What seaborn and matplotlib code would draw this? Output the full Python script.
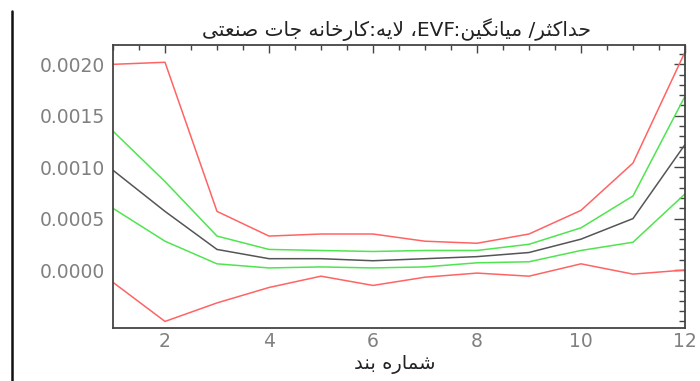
import numpy as np
import pandas as pd
import matplotlib
matplotlib.use("Agg")
import matplotlib.pyplot as plt
from matplotlib.lines import Line2D
from matplotlib.ticker import MultipleLocator, FormatStrFormatter
import seaborn as sns

# Band numbers and EVF statistics per band (industrial-plant layer)
bands = list(range(1, 13))
max_vals = [0.00200, 0.00202, 0.00057, 0.00033, 0.00035, 0.00035,
            0.00028, 0.00026, 0.00035, 0.00058, 0.00104, 0.00212]
upper_vals = [0.00135, 0.00086, 0.00033, 0.00020, 0.00019, 0.00018,
              0.00019, 0.00019, 0.00025, 0.00041, 0.00072, 0.00169]
mean_vals = [0.00097, 0.00057, 0.00020, 0.00011, 0.00011, 0.00009,
             0.00011, 0.00013, 0.00017, 0.00030, 0.00050, 0.00122]
lower_vals = [0.00060, 0.00028, 0.00006, 0.00002, 0.00003, 0.00002,
              0.00003, 0.00007, 0.00008, 0.00019, 0.00027, 0.00074]
min_vals = [-0.00012, -0.00050, -0.00032, -0.00017, -0.00006, -0.00015,
            -0.00007, -0.00003, -0.00006, 0.00006, -0.00004, 0.00000]

series_names = ["max", "upper", "mean", "lower", "min"]
series_colors = {"max": "#ff6464", "upper": "#50e450", "mean": "#555555",
                 "lower": "#50e450", "min": "#ff6464"}

title_text = "حداکثر/ میانگین:EVF، لایه:کارخانه جات صنعتی"
xlabel_text = "شماره بند"
x_ticks = [2, 4, 6, 8, 10, 12]
y_ticks = [0.0000, 0.0005, 0.0010, 0.0015, 0.0020]

# Contextual forms: (isolated, final, initial, medial)
FORMS = {
    "ا": ("\uFE8D", "\uFE8E", None, None),
    "ب": ("\uFE8F", "\uFE90", "\uFE91", "\uFE92"),
    "ت": ("\uFE95", "\uFE96", "\uFE97", "\uFE98"),
    "ث": ("\uFE99", "\uFE9A", "\uFE9B", "\uFE9C"),
    "ج": ("\uFE9D", "\uFE9E", "\uFE9F", "\uFEA0"),
    "ح": ("\uFEA1", "\uFEA2", "\uFEA3", "\uFEA4"),
    "خ": ("\uFEA5", "\uFEA6", "\uFEA7", "\uFEA8"),
    "د": ("\uFEA9", "\uFEAA", None, None),
    "ر": ("\uFEAD", "\uFEAE", None, None),
    "ش": ("\uFEB5", "\uFEB6", "\uFEB7", "\uFEB8"),
    "ص": ("\uFEB9", "\uFEBA", "\uFEBB", "\uFEBC"),
    "ع": ("\uFEC9", "\uFECA", "\uFECB", "\uFECC"),
    "ل": ("\uFEDD", "\uFEDE", "\uFEDF", "\uFEE0"),
    "م": ("\uFEE1", "\uFEE2", "\uFEE3", "\uFEE4"),
    "ن": ("\uFEE5", "\uFEE6", "\uFEE7", "\uFEE8"),
    "ه": ("\uFEE9", "\uFEEA", "\uFEEB", "\uFEEC"),
    "ک": ("\uFB8E", "\uFB8F", "\uFB90", "\uFB91"),
    "گ": ("\uFB92", "\uFB93", "\uFB94", "\uFB95"),
    "ی": ("\uFBFC", "\uFBFD", "\uFBFE", "\uFBFF"),
}


def joins_forward(ch):
    return ch in FORMS and FORMS[ch][2] is not None


def shape_rtl(text):
    """Return Arabic-script text in presentation forms, in visual order."""
    glyphs = []
    i, n = 0, len(text)
    while i < n:
        ch = text[i]
        if ch not in FORMS:
            glyphs.append(ch)
            i += 1
            continue
        jp = i > 0 and joins_forward(text[i - 1])
        if ch == "ل" and i + 1 < n and text[i + 1] == "ا":
            glyphs.append("\uFEFC" if jp else "\uFEFB")
            i += 2
            continue
        jn = joins_forward(ch) and i + 1 < n and text[i + 1] in FORMS
        iso, fin, ini, med = FORMS[ch]
        glyphs.append(med if jp and jn else fin if jp else ini if jn else iso)
        i += 1
    runs = []
    for g in glyphs:
        ltr = g.isascii() and g.isalnum()
        if runs and runs[-1][0] == ltr:
            runs[-1][1].append(g)
        else:
            runs.append([ltr, [g]])
    return "".join("".join(r) if ltr else "".join(reversed(r))
                   for ltr, r in reversed(runs))


df = pd.DataFrame({
    "band": bands * 5,
    "value": max_vals + upper_vals + mean_vals + lower_vals + min_vals,
    "series": sum([[s] * len(bands) for s in series_names], []),
})

sns.set_style("white")
plt.rcParams["font.family"] = ["DejaVu Sans"]

fig = plt.figure(figsize=(7.0, 3.81), dpi=100)
ax = fig.add_axes([113 / 700, 1 - 328 / 381, 572 / 700, 283 / 381])

sns.lineplot(data=df, x="band", y="value", hue="series", units="series",
             estimator=None, palette=series_colors, linewidth=1.1,
             legend=False, ax=ax)

ax.set_xlim(1, 12)
ax.set_ylim(-0.000564, 0.002188)
ax.set_xticks(x_ticks)
ax.set_yticks(y_ticks)
ax.xaxis.set_minor_locator(MultipleLocator(0.5))
ax.yaxis.set_minor_locator(MultipleLocator(0.0001))
ax.yaxis.set_major_formatter(FormatStrFormatter("%.4f"))
ax.set_xlabel("")
ax.set_ylabel("")

ax.tick_params(which="both", direction="in", top=True, right=True,
               colors="#444444", labelcolor="#808080", labelsize=13.5)
ax.tick_params(axis="y", which="major", length=8, width=1.0, pad=6)
ax.tick_params(axis="y", which="minor", length=4, width=1.0)
ax.tick_params(axis="x", which="major", length=6, width=1.0, pad=3)
ax.tick_params(axis="x", which="minor", length=3.5, width=1.0)
for sp in ax.spines.values():
    sp.set_color("#444444")
    sp.set_linewidth(1.3)

fig.text(397 / 700, 1 - 30 / 381, shape_rtl(title_text), ha="center",
         va="center", fontsize=14.5, color="#222222")
fig.text(395 / 700, 1 - 364 / 381, shape_rtl(xlabel_text), ha="center",
         va="center", fontsize=14, color="#222222")

# Frame edge on the left of the panel
fig.add_artist(Line2D([12 / 700, 12 / 700], [0, 1 - 11 / 381],
                      transform=fig.transFigure, color="#111111",
                      linewidth=1.8))

fig.savefig("out.png", dpi=100, facecolor="white")
